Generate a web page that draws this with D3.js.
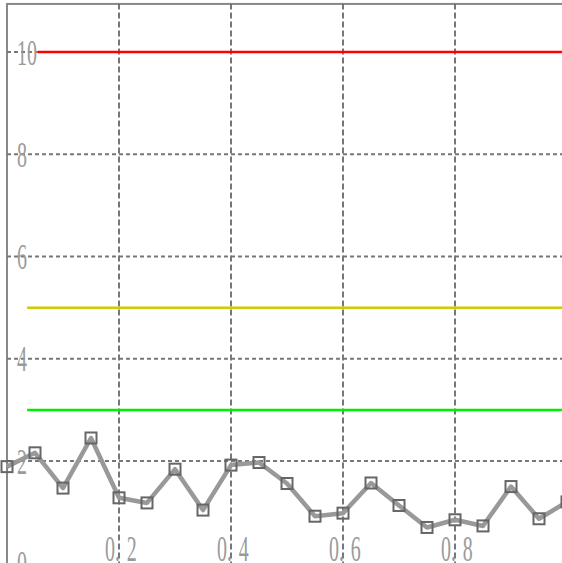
<!DOCTYPE html>
<html>
<head>
<meta charset="utf-8">
<script src="https://cdn.jsdelivr.net/npm/d3@7"></script>
<style>
  html, body { margin: 0; padding: 0; background: #fff; overflow: hidden; }
  svg { display: block; }
  text { font-family: "Liberation Serif", "DejaVu Serif", serif; }
</style>
</head>
<body>
<script>
// ---- data ----
const xValues = [0, 0.05, 0.1, 0.15, 0.2, 0.25, 0.3, 0.35, 0.4, 0.45, 0.5,
                 0.55, 0.6, 0.65, 0.7, 0.75, 0.8, 0.85, 0.9, 0.95, 1.0];
const seriesValues = [1.89, 2.16, 1.47, 2.45, 1.28, 1.18, 1.84, 1.04, 1.92, 1.97, 1.56,
                      0.92, 0.98, 1.57, 1.13, 0.70, 0.85, 0.73, 1.50, 0.87, 1.20];
const thresholdValues = [10, 5, 3];
const thresholdStarts = [0.055, 0.036, 0.036];
const thresholdColors = ["#ff0000", "#cccc00", "#00ee00"];
const xTicks = [0.2, 0.4, 0.6, 0.8];
const xTickLabels = ["0.2", "0.4", "0.6", "0.8"];
const yTicks = [0, 2, 4, 6, 8, 10];
const yTickLabels = ["0", "2", "4", "6", "8", "10"];
const xDomain = [0, 1];
const yDomain = [0, 10.95];

// ---- layout ----
const W = 562, H = 563;
const x = d3.scaleLinear().domain(xDomain).range([7, 567]);
const y = d3.scaleLinear().domain(yDomain).range([563.25, 563.25 - 10.95 * 51.125]);

const svg = d3.select("body").append("svg").attr("width", W).attr("height", H);

// frame
svg.append("rect")
  .attr("x", x(0)).attr("y", y(yDomain[1]) + 0.5)
  .attr("width", x(1) - x(0) + 4).attr("height", y(0) - y(yDomain[1]) + 4)
  .attr("fill", "none").attr("stroke", "#888").attr("stroke-width", 2);

// grid
const grid = svg.append("g");
grid.selectAll("line.v").data(xTicks).join("line").attr("class", "v")
  .attr("x1", d => x(d)).attr("x2", d => x(d))
  .attr("y1", y(yDomain[1])).attr("y2", y(0))
  .attr("stroke", "#777").attr("stroke-width", 2).attr("stroke-dasharray", "6,3");
grid.selectAll("line.h").data(yTicks.filter(d => d > 0)).join("line").attr("class", "h")
  .attr("x1", x(0)).attr("x2", x(1))
  .attr("y1", d => y(d)).attr("y2", d => y(d))
  .attr("stroke", "#777").attr("stroke-width", 2).attr("stroke-dasharray", "4,3");

// tick labels
const lab = svg.append("g").attr("fill", "#9a9a9a").attr("font-size", 35);
lab.selectAll("text.y").data(yTicks).join("text").attr("class", "y")
  .attr("transform", d => `translate(17,${y(d) + 12.5}) scale(0.57,1)`)
  .text((d, i) => yTickLabels[i]);
const xl = lab.selectAll("text.x").data(xTicks).join("text").attr("class", "x")
  .attr("transform", d => `translate(${x(d) - 14},561) scale(0.57,1)`);
xl.append("tspan").text((d, i) => xTickLabels[i].slice(0, 2));
xl.append("tspan").attr("dx", 12).text((d, i) => xTickLabels[i].slice(2));

// threshold lines
svg.append("g").selectAll("line").data(thresholdValues).join("line")
  .attr("x1", (d, i) => x(thresholdStarts[i])).attr("x2", x(1))
  .attr("y1", d => y(d)).attr("y2", d => y(d))
  .attr("stroke", (d, i) => thresholdColors[i]).attr("stroke-width", 2.5);

// series
const pts = xValues.map((v, i) => [v, seriesValues[i]]);
svg.append("path").datum(pts)
  .attr("d", d3.line().x(d => x(d[0])).y(d => y(d[1])))
  .attr("fill", "none").attr("stroke", "#999").attr("stroke-width", 4.5)
  .attr("stroke-linejoin", "round");
svg.append("g").selectAll("rect").data(pts).join("rect")
  .attr("x", d => x(d[0]) - 5.5).attr("y", d => y(d[1]) - 5.5)
  .attr("width", 11).attr("height", 11)
  .attr("fill", "none").attr("stroke", "#666").attr("stroke-width", 2);
</script>
</body>
</html>
